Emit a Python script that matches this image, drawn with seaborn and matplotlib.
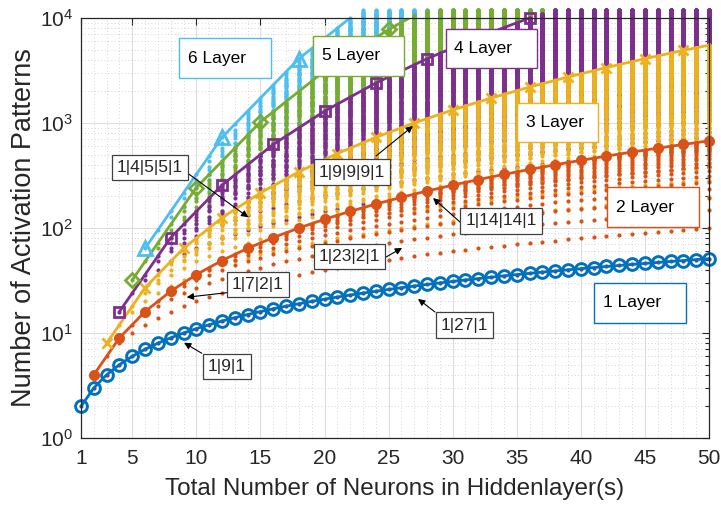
import matplotlib
matplotlib.use("Agg")
import matplotlib.pyplot as plt
import numpy as np
import pandas as pd
import seaborn as sns
from matplotlib.patches import Rectangle
from matplotlib.ticker import LogLocator, LogFormatterSciNotation, NullFormatter

sns.set_style("white")
plt.rcParams["font.family"] = ["Liberation Sans", "DejaVu Sans"]
plt.rcParams["mathtext.fontset"] = "custom"
plt.rcParams["mathtext.rm"] = "Liberation Sans"
plt.rcParams["mathtext.it"] = "Liberation Sans:italic"
plt.rcParams["mathtext.bf"] = "Liberation Sans:bold"

# ---- best-case (balanced width) curves for each depth ----
n_1layer = list(range(1, 51))
max_1layer = [2, 3, 4, 5, 6, 7, 8, 9, 10, 11, 12, 13, 14, 15, 16, 17, 18, 19, 20, 21,
              22, 23, 24, 25, 26, 27, 28, 29, 30, 31, 32, 33, 34, 35, 36, 37, 38, 39, 40, 41,
              42, 43, 44, 45, 46, 47, 48, 49, 50, 51]
n_2layer = list(range(2, 51, 2))
max_2layer = [4, 9, 16, 25, 36, 49, 64, 81, 100, 121, 144, 169, 196, 225, 256, 289, 324,
              361, 400, 441, 484, 529, 576, 625, 676]
n_3layer = [3, 6, 9, 12, 15, 18, 21, 24, 27, 30, 33, 36, 39, 42, 45, 48, 50]
max_3layer = [8, 27, 64, 125, 216, 343, 512, 729, 1000, 1331, 1728, 2197, 2744, 3375,
              4096, 4913, 5508]
n_4layer = [4, 8, 12, 16, 20, 24, 28, 32, 36]
max_4layer = [16, 81, 256, 625, 1296, 2401, 4096, 6561, 10000]
n_5layer = [5, 10, 15, 20, 25, 30]
max_5layer = [32, 243, 1024, 3125, 7776, 16807]
n_6layer = [6, 12, 18, 24]
max_6layer = [64, 729, 4096, 15625]

layer_names = ["1 Layer", "2 Layer", "3 Layer", "4 Layer", "5 Layer", "6 Layer"]
layer_colors = ["#0072BD", "#D95319", "#EDB120", "#7E2F8E", "#77AC30", "#4DBEEE"]
cloud_colors = ["#7E2F8E", "#D95319", "#EDB120", "#7E2F8E", "#77AC30", "#4DBEEE"]

# annotated architectures: label, text centre, arrow tail, arrow tip (data coords)
arch_labels = ["1|4|5|5|1", "1|9|9|9|1", "1|14|14|1", "1|23|2|1", "1|7|2|1", "1|9|1", "1|27|1"]
arch_text_xy = [(6.38, 377), (22.15, 341), (33.77, 116.6), (21.95, 53.5), (14.81, 29.0),
                (12.37, 4.78), (30.92, 11.87)]
arch_tail_xy = [(9.33, 332), (24.02, 485), (30.57, 114), (24.8, 52.9), (12.37, 24.2),
                (10.42, 6.41), (28.62, 15.85)]
arch_tip_xy = [(14.05, 126.5), (26.9, 936), (28.47, 193), (26.05, 64.5), (9.25, 21.9),
               (9.04, 8.09), (27.3, 21.1)]


# ---- every architecture: activation patterns = prod(width + 1) ----
def width_splits(total, depth, smallest=1):
    if depth == 1:
        if total >= smallest:
            yield (total,)
        return
    for w in range(smallest, total // depth + 1):
        for rest in width_splits(total - w, depth - 1, w):
            yield (w,) + rest


rows = []
for depth in range(1, 7):
    for total in range(depth, 51):
        counts = set()
        for widths in width_splits(total, depth):
            c = int(np.prod([w + 1 for w in widths]))
            if c <= 12000:
                counts.add(c)
        for c in counts:
            rows.append((depth, total, c))
cloud = pd.DataFrame(rows, columns=["depth", "neurons", "patterns"])

fig = plt.figure(figsize=(7.21, 5.08), dpi=100)
ax = fig.add_axes([81 / 721, 1 - 438 / 508, 628 / 721, 420 / 508])

for depth in range(6, 0, -1):
    sub = cloud[cloud["depth"] == depth]
    sns.scatterplot(data=sub, x="neurons", y="patterns", color=cloud_colors[depth - 1],
                    s=9, linewidth=0, ax=ax, zorder=2, clip_on=False, legend=False)

curve_specs = [
    (n_1layer, max_1layer, dict(marker="o", ms=8.5, mfc="none", mew=2.1), False),
    (n_2layer, max_2layer, dict(marker="o", ms=8, mew=0), False),
    (n_3layer, max_3layer, dict(marker="x", ms=7, mew=2, markevery=list(range(16))), False),
    (n_4layer, max_4layer, dict(marker="s", ms=7.5, mfc="none", mew=2), False),
    (n_5layer, max_5layer, dict(marker="D", ms=7.5, mfc="none", mew=2), True),
    (n_6layer, max_6layer, dict(marker="^", ms=10.5, mfc="none", mew=2), True),
]
for i, (xs, ys, mk, clip) in enumerate(curve_specs):
    sns.lineplot(x=xs, y=ys, color=layer_colors[i], lw=2.0, ax=ax, zorder=3 + i * 0.01,
                 estimator=None, sort=False, clip_on=clip, mec=layer_colors[i],
                 mfc=mk.pop("mfc", layer_colors[i]), **mk)

ax.set_yscale("log")
ax.set_xlim(1, 50)
ax.set_ylim(1, 1e4)
ax.set_xticks([1, 5, 10, 15, 20, 25, 30, 35, 40, 45, 50])
ax.set_xticks(range(1, 51), minor=True)
ax.yaxis.set_major_locator(LogLocator(base=10, numticks=10))
ax.yaxis.set_minor_locator(LogLocator(base=10, subs=np.arange(2, 10), numticks=50))
ax.yaxis.set_major_formatter(LogFormatterSciNotation())
ax.yaxis.set_minor_formatter(NullFormatter())

frame = "#262626"
ax.grid(True, which="major", color="#DCDCDC", lw=0.8, ls="-", zorder=0)
ax.grid(True, which="minor", color="#C8C8C8", lw=0.6, ls=(0, (1, 3)), zorder=0)
ax.set_axisbelow(True)
for sp in ax.spines.values():
    sp.set_color(frame)
    sp.set_linewidth(0.9)
    sp.set_zorder(6)
ax.tick_params(which="both", direction="in", top=True, right=True, colors=frame,
               labelsize=15, width=0.8)
ax.tick_params(which="major", length=5)
ax.tick_params(axis="y", which="minor", length=3)
ax.tick_params(axis="x", which="minor", length=0)
ax.tick_params(axis="x", which="major", pad=8)
ax.tick_params(axis="y", which="major", pad=6)

ax.set_xlabel("Total Number of Neurons in Hiddenlayer(s)", fontsize=17.5, color=frame,
              labelpad=7)
ax.set_ylabel("Number of Activation Patterns", fontsize=19.5, color=frame, labelpad=2)

# depth labels in coloured boxes (axes fraction)
layer_boxes = [
    (0.8169, 0.2745, 0.1460, 0.0953, 0.8317),
    (0.8381, 0.5017, 0.1460, 0.0952, 0.8514),
    (0.6938, 0.7055, 0.1299, 0.0928, 0.7086),
    (0.5807, 0.8817, 0.1459, 0.0921, 0.5939),
    (0.3699, 0.8626, 0.1449, 0.0953, 0.3833),
    (0.1565, 0.8564, 0.1456, 0.0967, 0.1699),
]
for i, (x0, y0, w, h, tx) in enumerate(layer_boxes):
    ax.add_patch(Rectangle((x0, y0), w, h, transform=ax.transAxes, fc="white",
                           ec=layer_colors[i], lw=1.0, zorder=7))
    ax.text(tx, y0 + h / 2, layer_names[i], transform=ax.transAxes, ha="left",
            va="center", fontsize=12.5, color="#000000", zorder=8)

for lab, txy, tail, tip in zip(arch_labels, arch_text_xy, arch_tail_xy, arch_tip_xy):
    ax.annotate("", xy=tip, xytext=tail,
                arrowprops=dict(arrowstyle="-|>", color="black", lw=0.8, shrinkA=0,
                                shrinkB=0, mutation_scale=10), zorder=7)
    ax.text(txy[0], txy[1], lab, ha="center", va="center", fontsize=12.5, zorder=8,
            bbox=dict(boxstyle="square,pad=0.3", fc="white", ec="#404040", lw=0.9))

fig.savefig("out.png", dpi=100)
